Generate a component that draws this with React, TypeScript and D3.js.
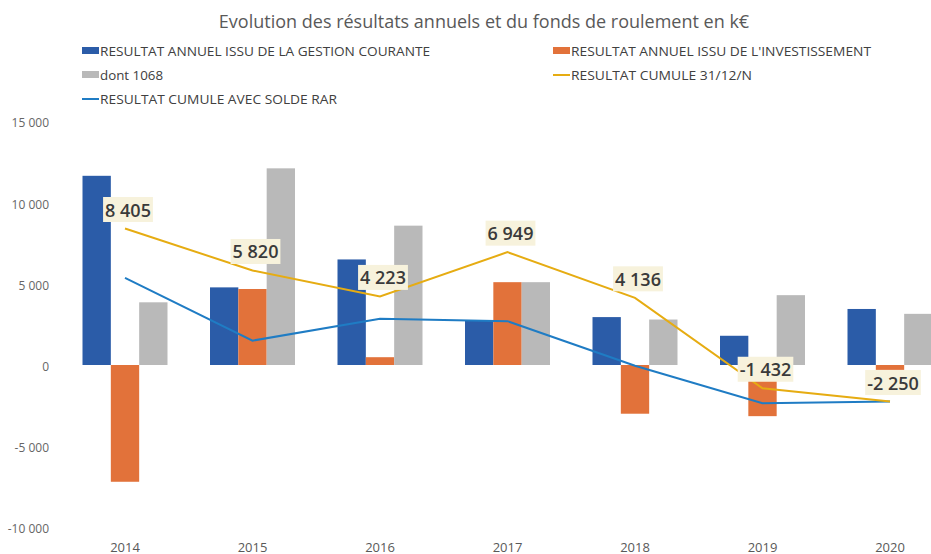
import React, { useEffect, useRef } from 'react';
import * as d3 from 'd3';

const years = ['2014', '2015', '2016', '2017', '2018', '2019', '2020'];
const gestionCourante = [11650, 4780, 6500, 2750, 2950, 1800, 3450];
const investissement = [-7190, 4680, 480, 5100, -3000, -3150, -300];
const dont1068 = [3860, 12110, 8580, 5100, 2800, 4300, 3150];
const cumule = [8405, 5820, 4223, 6949, 4136, -1432, -2250];
const cumuleRar = [5360, 1500, 2850, 2700, -50, -2350, -2250];
const yTicks = [15000, 10000, 5000, 0, -5000, -10000];

const title = 'Evolution des résultats annuels et du fonds de roulement en k€';
const seriesNames = [
  'RESULTAT ANNUEL ISSU DE LA GESTION COURANTE',
  "RESULTAT ANNUEL ISSU DE L'INVESTISSEMENT",
  'dont 1068',
  'RESULTAT CUMULE 31/12/N',
  'RESULTAT CUMULE AVEC SOLDE RAR',
];
const legendWidths = [330, 300, 63, 181, 237];

const W = 931;
const H = 554;
const FONT = "'Open Sans', 'Noto Sans', sans-serif";
const colors = ['#2b5ca8', '#e2723a', '#b9b9b9', '#e6ac12', '#1f7cc4'];

const fmt = (v: number) => {
  const s = Math.abs(v).toString().replace(/\B(?=(\d{3})+(?!\d))/g, ' ');
  return (v < 0 ? '-' : '') + s;
};

export default function App() {
  const ref = useRef<SVGSVGElement>(null);

  useEffect(() => {
    const svg = d3.select(ref.current);
    svg.selectAll('*').remove();

    const x = d3.scaleBand<string>().domain(years).range([61.25, 61.25 + 127.5 * years.length]).padding(0);
    const inner = d3.scaleBand<number>().domain([0, 1, 2]).range([0, x.bandwidth()]).paddingInner(0).paddingOuter(0.75);
    const y = d3.scaleLinear().domain([-10000, 15000]).range([527.4, 121.4]);

    // title
    svg.append('text')
      .attr('x', 484).attr('y', 28)
      .attr('text-anchor', 'middle')
      .attr('font-family', FONT).attr('font-size', 18)
      .attr('fill', '#595959')
      .text(title);

    // legend
    const legendItems = [
      { x: 82, y: 51, i: 0, type: 'rect' },
      { x: 553, y: 51, i: 1, type: 'rect' },
      { x: 82, y: 75, i: 2, type: 'rect' },
      { x: 553, y: 75, i: 3, type: 'line' },
      { x: 82, y: 99, i: 4, type: 'line' },
    ];
    const lg = svg.append('g');
    legendItems.forEach((d) => {
      if (d.type === 'rect') {
        lg.append('rect').attr('x', d.x).attr('y', d.y - 4).attr('width', 17).attr('height', 7).attr('fill', colors[d.i]);
      } else {
        lg.append('line').attr('x1', d.x).attr('x2', d.x + 17).attr('y1', d.y).attr('y2', d.y)
          .attr('stroke', colors[d.i]).attr('stroke-width', 2);
      }
      lg.append('text')
        .attr('x', d.x + 18).attr('y', d.y)
        .attr('dominant-baseline', 'central')
        .attr('font-family', FONT).attr('font-size', 12.5)
        .attr('fill', '#404040')
        .attr('textLength', legendWidths[d.i])
        .attr('lengthAdjust', 'spacingAndGlyphs')
        .text(seriesNames[d.i]);
    });

    // y axis labels
    svg.append('g').selectAll('text').data(yTicks).join('text')
      .attr('x', 49).attr('y', (d) => y(d) + 1.5)
      .attr('text-anchor', 'end').attr('dominant-baseline', 'central')
      .attr('font-family', FONT).attr('font-size', 12)
      .attr('fill', '#666666')
      .text((d) => fmt(d));

    // x axis labels
    svg.append('g').selectAll('text').data(years).join('text')
      .attr('x', (d) => (x(d) as number) + x.bandwidth() / 2).attr('y', 546.5)
      .attr('text-anchor', 'middle').attr('dominant-baseline', 'central')
      .attr('font-family', FONT).attr('font-size', 13)
      .attr('fill', '#595959')
      .text((d) => d);

    // bars
    const barSeries = [gestionCourante, investissement, dont1068];
    barSeries.forEach((vals, si) => {
      svg.append('g').selectAll('rect').data(vals).join('rect')
        .attr('x', (_d, i) => (x(years[i]) as number) + (inner(si) as number))
        .attr('width', inner.bandwidth())
        .attr('y', (d) => y(Math.max(0, d)))
        .attr('height', (d) => Math.abs(y(d) - y(0)))
        .attr('fill', colors[si]);
    });

    // lines
    const cx = (i: number) => (x(years[i]) as number) + x.bandwidth() / 2;
    const line = d3.line<number>().x((_d, i) => cx(i)).y((d) => y(d));
    svg.append('path').attr('d', line(cumuleRar) as string)
      .attr('fill', 'none').attr('stroke', colors[4]).attr('stroke-width', 2);
    svg.append('path').attr('d', line(cumule) as string)
      .attr('fill', 'none').attr('stroke', colors[3]).attr('stroke-width', 2);

    // data labels for cumule
    const lbl = svg.append('g');
    cumule.forEach((v, i) => {
      const g = lbl.append('g');
      const tx = cx(i) + 3;
      const ty = y(v) - 19;
      const rect = g.append('rect').attr('fill', '#f7f2dc');
      const t = g.append('text')
        .attr('x', tx).attr('y', ty)
        .attr('text-anchor', 'middle').attr('dominant-baseline', 'central')
        .attr('font-family', FONT).attr('font-size', 18).attr('font-weight', 600)
        .attr('fill', '#3a3a3a')
        .text(fmt(v));
      const w = (t.node() as SVGTextElement).getComputedTextLength();
      rect.attr('x', tx - w / 2 - 2).attr('y', ty - 12.5).attr('width', w + 4).attr('height', 25);
    });
  }, []);

  return (
    <svg ref={ref} width={W} height={H} style={{ position: 'absolute', left: 0, top: 0, background: '#fff' }} />
  );
}
